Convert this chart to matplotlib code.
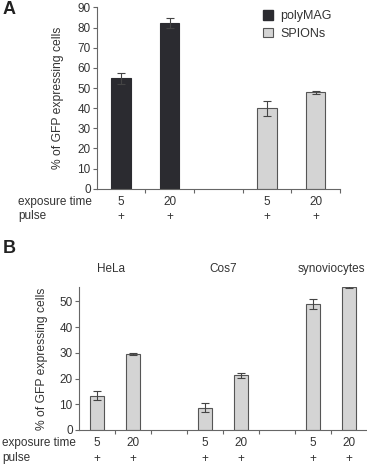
import matplotlib.pyplot as plt
from matplotlib.transforms import blended_transform_factory

plt.rcParams['font.family'] = ['Liberation Sans', 'DejaVu Sans']

# Panel A data
a_slots = [0, 1, 3, 4]
a_values = [54.8, 82.4, 40.0, 47.8]
a_errors = [2.8, 2.6, 3.7, 0.8]
a_series = ['polyMAG', 'polyMAG', 'SPIONs', 'SPIONs']
a_time = ['5', '20', '5', '20']

# Panel B data
b_slots = [0, 1, 3, 4, 6, 7]
b_values = [13.3, 29.5, 8.7, 21.2, 49.0, 55.5]
b_errors = [1.7, 0.3, 1.6, 0.9, 2.0, 0.3]
b_time = ['5', '20', '5', '20', '5', '20']
b_cells = ['HeLa', 'Cos7', 'synoviocytes']
b_cell_pos = [0.4, 3.5, 6.5]

dark = '#2b2b30'
light = '#d4d4d4'
edge = '#555555'
txt = '#333333'
fs = 8.5   # ticks
fr = 8.5   # row texts

fig = plt.figure(figsize=(3.67, 4.65), dpi=100)


def style(ax, n, pad):
    for s in ['top', 'right']:
        ax.spines[s].set_visible(False)
    for s in ['left', 'bottom']:
        ax.spines[s].set_color('#666666')
        ax.spines[s].set_linewidth(0.8)
    ax.set_xticks([i + 0.5 for i in range(n)])
    ax.set_xticklabels([])
    ax.tick_params(axis='x', length=3, color='#666666', width=0.8)
    ax.tick_params(axis='y', length=3, color='#666666', width=0.8,
                   labelsize=fs, labelcolor=txt, pad=1.5)
    ax.set_ylabel('% of GFP expressing cells', fontsize=8.7, color=txt, labelpad=pad)


# ---- Panel A
axA = fig.add_axes([0.264, 0.594, 0.662, 0.390])
colorsA = [dark if s == 'polyMAG' else light for s in a_series]
for x, v, e, c in zip(a_slots, a_values, a_errors, colorsA):
    axA.bar(x, v, width=0.4, color=c, edgecolor=edge if c == light else dark, linewidth=0.8)
    axA.errorbar(x, v, yerr=e, fmt='none', ecolor='#444444', elinewidth=0.8, capsize=3, capthick=0.8)
axA.set_xlim(-0.5, 4.5)
axA.set_ylim(0, 90)
axA.set_yticks(range(0, 91, 10))
style(axA, 5, 9.5)
hp = plt.Rectangle((0, 0), 1, 1, facecolor=dark, edgecolor=dark)
hs = plt.Rectangle((0, 0), 1, 1, facecolor=light, edgecolor=edge, linewidth=0.8)
axA.legend([hp, hs], ['polyMAG', 'SPIONs'], loc='upper left', frameon=False,
           fontsize=fr + 0.5, handlelength=0.8, handleheight=0.8, handletextpad=0.6,
           labelspacing=0.45, borderaxespad=0.0, borderpad=0.0,
           bbox_to_anchor=(0.683, 0.985), labelcolor=txt)

trA = blended_transform_factory(axA.transData, fig.transFigure)
for x, t in zip(a_slots, a_time):
    fig.text(x, 1 - 202 / 465, t, transform=trA, ha='center', va='center', fontsize=fr, color=txt)
    fig.text(x, 1 - 217 / 465, '+', transform=trA, ha='center', va='center', fontsize=fs, color=txt)
fig.text(18 / 367, 1 - 202 / 465, 'exposure time', ha='left', va='center', fontsize=fr, color=txt)
fig.text(18 / 367, 1 - 216 / 465, 'pulse', ha='left', va='center', fontsize=fr, color=txt)
fig.text(3 / 367, 1 - 10 / 465, 'A', ha='left', va='center', fontsize=13, fontweight='bold', color='#222222')

# ---- Panel B
axB = fig.add_axes([0.215, 0.0753, 0.785, 0.3082])
for x, v, e in zip(b_slots, b_values, b_errors):
    axB.bar(x, v, width=0.4, color=light, edgecolor=edge, linewidth=0.8)
    axB.errorbar(x, v, yerr=e, fmt='none', ecolor='#444444', elinewidth=0.8, capsize=3, capthick=0.8)
axB.set_xlim(-0.5, 7.45)
axB.set_ylim(0, 55.7)
axB.set_yticks(range(0, 51, 10))
style(axB, 8, 8)
axB.set_xticks([i + 0.5 for i in range(7)])
axB.set_xticklabels([])

trB = blended_transform_factory(axB.transData, fig.transFigure)
for x, name in zip(b_cell_pos, b_cells):
    fig.text(x, 1 - 269 / 465, name, transform=trB, ha='center', va='center', fontsize=fr, color=txt)
for x, t in zip(b_slots, b_time):
    fig.text(x, 1 - 443 / 465, t, transform=trB, ha='center', va='center', fontsize=fr, color=txt)
    fig.text(x, 1 - 459 / 465, '+', transform=trB, ha='center', va='center', fontsize=fs, color=txt)
fig.text(2 / 367, 1 - 443 / 465, 'exposure time', ha='left', va='center', fontsize=fr, color=txt)
fig.text(2 / 367, 1 - 458 / 465, 'pulse', ha='left', va='center', fontsize=fr, color=txt)
fig.text(3 / 367, 1 - 248 / 465, 'B', ha='left', va='center', fontsize=13, fontweight='bold', color='#222222')

fig.savefig('out.png', dpi=100)
